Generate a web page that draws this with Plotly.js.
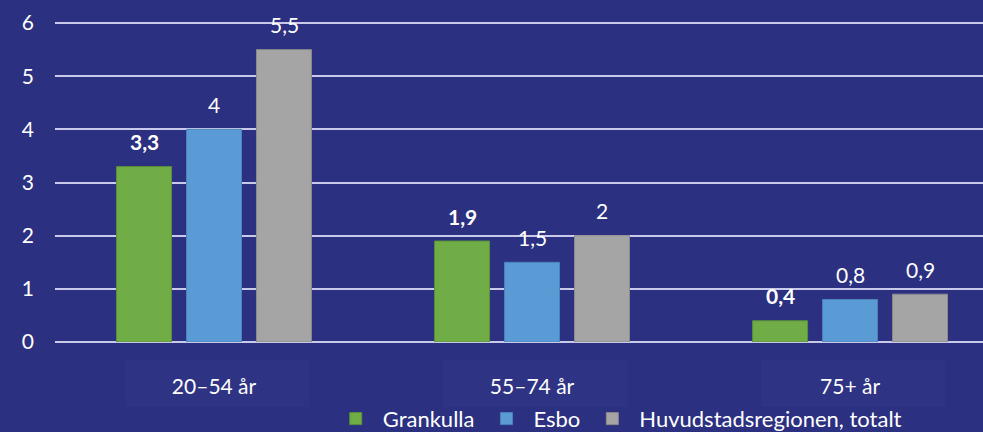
<!DOCTYPE html>
<html>
<head>
<meta charset="utf-8">
<script src="https://cdn.plot.ly/plotly-3.0.1.min.js"></script>
<style>html,body{margin:0;padding:0;background:#2c3080;}#chart{width:983px;height:432px;}</style>
</head>
<body>
<div id="chart"></div>
<script>
const categories = ["20–54 år", "55–74 år", "75+ år"];
const seriesNames = ["Grankulla", "Esbo", "Huvudstadsregionen, totalt"];
const grankulla = [3.3, 1.9, 0.4];
const esbo = [4, 1.5, 0.8];
const huvudstad = [5.5, 2, 0.9];
const yTicks = [0, 1, 2, 3, 4, 5, 6];

const colors = ["#70ad47", "#5b9bd5", "#a5a5a5"];
const edge = ["#5a8f3a", "#4a84b8", "#8a8a8a"];
const allSeries = [grankulla, esbo, huvudstad];
const FONT = "Lato, 'Open Sans', sans-serif";
const FS = 21;

const traces = allSeries.map((vals, i) => ({
  type: "bar",
  name: seriesNames[i],
  x: categories,
  y: vals,
  marker: {color: colors[i], line: {color: edge[i], width: 1}},
  hoverinfo: "skip"
}));

const offsets = [-70, 0, 70];
const annotations = [];
allSeries.forEach((vals, i) => {
  vals.forEach((v, j) => {
    annotations.push({
      x: categories[j], y: v, xref: "x", yref: "y",
      text: i === 0 ? "<b>" + String(v).replace(".", ",") + "</b>" : String(v).replace(".", ","),
      showarrow: false, xshift: offsets[i], yshift: 25,
      font: {family: FONT, size: FS, color: "#ffffff"}
    });
  });
});

const shapes = [0, 1, 2].map(j => ({
  type: "rect", xref: "x", yref: "paper",
  x0: j - 0.28, x1: j + 0.3, y0: -0.056, y1: -0.203,
  fillcolor: "#2f3383", line: {width: 0}, layer: "below"
}));

const layout = {
  width: 983, height: 432,
  paper_bgcolor: "#2c3080", plot_bgcolor: "rgba(0,0,0,0)",
  margin: {l: 55, r: 0, t: 22, b: 90, autoexpand: false},
  barmode: "group", bargap: 0.34, bargroupgap: 0.214,
  font: {family: FONT, color: "#ffffff", size: FS},
  showlegend: true,
  legend: {orientation: "h", x: 0.295, xanchor: "left", y: -0.24, yanchor: "middle",
           font: {family: FONT, size: 22, color: "#ffffff"}, bgcolor: "rgba(0,0,0,0)",
           traceorder: "normal", itemwidth: 44},
  xaxis: {type: "category", range: [-0.5, 2.418], showgrid: false, zeroline: false,
          showline: false, ticks: "", ticklabelstandoff: 30,
          tickfont: {family: FONT, size: FS, color: "#ffffff"}},
  yaxis: {range: [0, 6.02], tickvals: yTicks, ticktext: yTicks.map(String),
          showgrid: true, gridcolor: "#c9c9ea", gridwidth: 2,
          zeroline: true, zerolinecolor: "#c9c9ea", zerolinewidth: 2,
          showline: false, ticks: "", ticklabelstandoff: 20,
          tickfont: {family: FONT, size: FS, color: "#ffffff"}},
  annotations: annotations,
  shapes: shapes
};

Plotly.newPlot("chart", traces, layout, {staticPlot: true, displayModeBar: false});
</script>
</body>
</html>
